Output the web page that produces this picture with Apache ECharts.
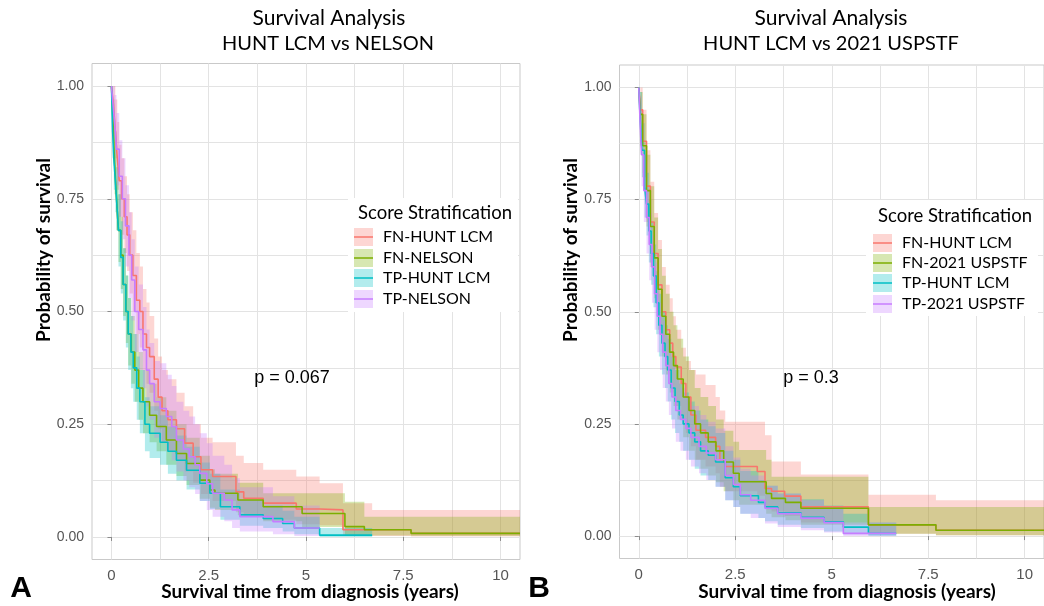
<!DOCTYPE html>
<html>
<head>
<meta charset="utf-8">
<script src="https://cdn.jsdelivr.net/npm/echarts@6/dist/echarts.min.js"></script>
<style>
  html, body { margin: 0; padding: 0; background: #fff; }
  #chart { width: 1044px; height: 606px; }
</style>
</head>
<body>
<div id="chart"></div>
<script>
  'use strict';

  // ---- axis ticks ----
  var X_TICKS = [0, 2.5, 5, 7.5, 10];
  var X_GRID = [0, 1.25, 2.5, 3.75, 5, 6.25, 7.5, 8.75, 10];
  var Y_TICKS = [0, 0.25, 0.5, 0.75, 1];
  var Y_GRID = [0, 0.125, 0.25, 0.375, 0.5, 0.625, 0.75, 0.875, 1];

  var COLORS = ['#F8766D', '#7CAE00', '#00BFC4', '#C77CFF'];
  var NAMES_A = ['FN-HUNT LCM', 'FN-NELSON', 'TP-HUNT LCM', 'TP-NELSON'];
  var NAMES_B = ['FN-HUNT LCM', 'FN-2021 USPSTF', 'TP-HUNT LCM', 'TP-2021 USPSTF'];

  // ---- panel A : HUNT LCM vs NELSON ----
  var A_FN_HUNT_T  = [0, 0.05, 0.1, 0.15, 0.2, 0.26, 0.33, 0.4, 0.47, 0.55, 0.64, 0.73, 0.81, 0.9, 0.98, 1.1, 1.2, 1.3, 1.45, 1.67, 1.88, 2.1, 2.3, 2.6, 3.2, 3.4, 3.9, 4.75, 5.35, 5.95, 6.7, 7.7];
  var A_FN_HUNT_S  = [1, 0.96, 0.9, 0.84, 0.79, 0.75, 0.71, 0.67, 0.625, 0.58, 0.525, 0.5, 0.45, 0.42, 0.40, 0.35, 0.31, 0.28, 0.26, 0.24, 0.208, 0.178, 0.149, 0.134, 0.10, 0.086, 0.075, 0.062, 0.06, 0.016, 0.016, 0.008];
  var A_FN_HUNT_HI = [1, 1, 0.97, 0.92, 0.87, 0.84, 0.80, 0.76, 0.72, 0.68, 0.63, 0.60, 0.55, 0.52, 0.49, 0.44, 0.40, 0.37, 0.35, 0.32, 0.29, 0.25, 0.22, 0.21, 0.18, 0.164, 0.149, 0.134, 0.119, 0.075, 0.06, 0.06];
  var A_FN_HUNT_LO = [1, 0.92, 0.84, 0.77, 0.71, 0.67, 0.63, 0.59, 0.54, 0.50, 0.45, 0.42, 0.37, 0.34, 0.32, 0.28, 0.24, 0.21, 0.19, 0.17, 0.145, 0.12, 0.095, 0.08, 0.055, 0.045, 0.038, 0.028, 0.026, 0.002, 0.002, 0.001];

  var A_FN_NEL_T  = [0, 0.04, 0.08, 0.13, 0.18, 0.24, 0.3, 0.37, 0.43, 0.51, 0.6, 0.7, 0.81, 0.98, 1.16, 1.41, 1.67, 1.93, 2.27, 2.53, 2.66, 3.25, 3.9, 4.9, 6.0, 6.5, 7.7];
  var A_FN_NEL_S  = [1, 0.92, 0.83, 0.75, 0.68, 0.625, 0.56, 0.5, 0.45, 0.41, 0.37, 0.33, 0.30, 0.27, 0.245, 0.215, 0.185, 0.163, 0.126, 0.104, 0.097, 0.082, 0.067, 0.052, 0.023, 0.016, 0.008];
  var A_FN_NEL_HI = [1, 0.97, 0.9, 0.82, 0.76, 0.71, 0.64, 0.58, 0.53, 0.49, 0.45, 0.41, 0.37, 0.34, 0.31, 0.28, 0.25, 0.22, 0.18, 0.15, 0.14, 0.12, 0.097, 0.097, 0.078, 0.045, 0.045];
  var A_FN_NEL_LO = [1, 0.87, 0.76, 0.68, 0.61, 0.55, 0.49, 0.43, 0.38, 0.34, 0.30, 0.26, 0.23, 0.21, 0.19, 0.16, 0.135, 0.115, 0.085, 0.065, 0.06, 0.048, 0.035, 0.022, 0.004, 0.003, 0.002];

  var A_TP_HUNT_T  = [0, 0.03, 0.06, 0.1, 0.13, 0.18, 0.24, 0.3, 0.37, 0.43, 0.5, 0.56, 0.65, 0.73, 0.86, 0.98, 1.25, 1.45, 1.67, 1.93, 2.27, 2.53, 2.8, 3.3, 3.9, 4.4, 4.7, 5.35];
  var A_TP_HUNT_S  = [1, 0.9, 0.84, 0.79, 0.75, 0.68, 0.62, 0.56, 0.5, 0.45, 0.41, 0.375, 0.33, 0.30, 0.25, 0.23, 0.21, 0.19, 0.17, 0.148, 0.119, 0.097, 0.067, 0.049, 0.041, 0.03, 0.02, 0.004];
  var A_TP_HUNT_HI = [1, 0.96, 0.91, 0.86, 0.82, 0.76, 0.70, 0.64, 0.58, 0.53, 0.49, 0.45, 0.40, 0.37, 0.31, 0.29, 0.27, 0.245, 0.225, 0.2, 0.165, 0.14, 0.105, 0.082, 0.07, 0.058, 0.045, 0.02];
  var A_TP_HUNT_LO = [1, 0.84, 0.77, 0.72, 0.68, 0.6, 0.54, 0.48, 0.42, 0.37, 0.33, 0.3, 0.26, 0.23, 0.19, 0.175, 0.16, 0.14, 0.125, 0.105, 0.08, 0.062, 0.038, 0.025, 0.02, 0.012, 0.006, 0];

  var A_TP_NEL_T  = [0, 0.04, 0.08, 0.13, 0.2, 0.28, 0.36, 0.45, 0.52, 0.6, 0.7, 0.81, 0.9, 0.98, 1.1, 1.25, 1.41, 1.55, 1.67, 1.85, 2.0, 2.15, 2.27, 2.45, 2.6, 2.9, 3.1, 3.3, 4.15, 4.7];
  var A_TP_NEL_S  = [1, 0.96, 0.92, 0.86, 0.8, 0.75, 0.69, 0.625, 0.57, 0.5, 0.46, 0.415, 0.37, 0.34, 0.3, 0.285, 0.267, 0.245, 0.215, 0.195, 0.178, 0.16, 0.141, 0.118, 0.097, 0.082, 0.06, 0.045, 0.034, 0.02];
  var A_TP_NEL_HI = [1, 1, 0.98, 0.94, 0.88, 0.84, 0.78, 0.72, 0.66, 0.6, 0.56, 0.51, 0.46, 0.43, 0.39, 0.385, 0.36, 0.335, 0.3, 0.28, 0.267, 0.25, 0.23, 0.208, 0.18, 0.16, 0.13, 0.11, 0.09, 0.07];
  var A_TP_NEL_LO = [1, 0.9, 0.85, 0.78, 0.71, 0.66, 0.6, 0.53, 0.48, 0.41, 0.37, 0.33, 0.29, 0.26, 0.22, 0.21, 0.19, 0.17, 0.145, 0.125, 0.11, 0.095, 0.08, 0.06, 0.045, 0.035, 0.02, 0.012, 0.006, 0.002];

  var A_END = [10.5, 10.5, 6.7, 5.35];

  // ---- panel B : HUNT LCM vs 2021 USPSTF ----
  var B_FN_HUNT_T  = [0, 0.04, 0.1, 0.2, 0.3, 0.4, 0.5, 0.6, 0.7, 0.8, 0.88, 0.96, 1.1, 1.22, 1.35, 1.48, 1.73, 1.99, 2.1, 2.24, 3.07, 3.27, 3.44, 3.78, 4.2, 5.95, 7.7];
  var B_FN_HUNT_S  = [1, 0.95, 0.88, 0.78, 0.7, 0.63, 0.56, 0.5, 0.46, 0.43, 0.40, 0.377, 0.34, 0.31, 0.27, 0.236, 0.22, 0.2, 0.17, 0.155, 0.144, 0.106, 0.1, 0.089, 0.065, 0.025, 0.013];
  var B_FN_HUNT_HI = [1, 1, 0.95, 0.86, 0.79, 0.72, 0.66, 0.6, 0.56, 0.53, 0.49, 0.46, 0.42, 0.39, 0.37, 0.36, 0.337, 0.31, 0.28, 0.255, 0.255, 0.225, 0.166, 0.166, 0.137, 0.092, 0.08];
  var B_FN_HUNT_LO = [1, 0.9, 0.81, 0.7, 0.61, 0.54, 0.47, 0.41, 0.37, 0.34, 0.31, 0.29, 0.26, 0.23, 0.2, 0.17, 0.155, 0.14, 0.11, 0.1, 0.09, 0.06, 0.055, 0.045, 0.03, 0.005, 0.002];

  var B_FN_USP_T  = [0, 0.04, 0.1, 0.2, 0.3, 0.4, 0.5, 0.6, 0.7, 0.8, 0.9, 1.0, 1.15, 1.3, 1.45, 1.6, 1.8, 2.0, 2.2, 2.45, 2.6, 3.3, 3.44, 3.8, 4.2, 5.95, 7.7];
  var B_FN_USP_S  = [1, 0.94, 0.87, 0.77, 0.69, 0.62, 0.55, 0.49, 0.45, 0.41, 0.38, 0.35, 0.31, 0.28, 0.25, 0.23, 0.21, 0.19, 0.165, 0.14, 0.121, 0.095, 0.084, 0.075, 0.062, 0.025, 0.013];
  var B_FN_USP_HI = [1, 0.99, 0.94, 0.85, 0.78, 0.71, 0.64, 0.58, 0.54, 0.5, 0.47, 0.44, 0.4, 0.37, 0.33, 0.31, 0.29, 0.26, 0.235, 0.21, 0.192, 0.17, 0.132, 0.132, 0.132, 0.065, 0.065];
  var B_FN_USP_LO = [1, 0.88, 0.8, 0.69, 0.6, 0.53, 0.46, 0.4, 0.36, 0.32, 0.29, 0.26, 0.22, 0.19, 0.17, 0.15, 0.135, 0.12, 0.1, 0.08, 0.07, 0.05, 0.042, 0.035, 0.025, 0.005, 0.002];

  var B_TP_HUNT_T  = [0, 0.03, 0.08, 0.15, 0.2, 0.26, 0.32, 0.38, 0.45, 0.52, 0.6, 0.68, 0.75, 0.84, 0.94, 1.05, 1.15, 1.3, 1.45, 1.6, 1.8, 1.99, 2.24, 2.45, 2.63, 3.1, 3.27, 3.6, 4.2, 4.8, 5.3, 5.95];
  var B_TP_HUNT_S  = [1, 0.94, 0.86, 0.78, 0.74, 0.68, 0.63, 0.58, 0.52, 0.47, 0.43, 0.4, 0.37, 0.33, 0.3, 0.27, 0.25, 0.23, 0.21, 0.19, 0.18, 0.165, 0.13, 0.11, 0.09, 0.075, 0.065, 0.052, 0.042, 0.032, 0.02, 0.006];
  var B_TP_HUNT_HI = [1, 0.99, 0.92, 0.85, 0.81, 0.75, 0.7, 0.65, 0.59, 0.54, 0.5, 0.47, 0.44, 0.4, 0.37, 0.34, 0.32, 0.3, 0.28, 0.26, 0.245, 0.23, 0.19, 0.17, 0.145, 0.125, 0.112, 0.095, 0.082, 0.068, 0.05, 0.03];
  var B_TP_HUNT_LO = [1, 0.88, 0.8, 0.71, 0.67, 0.61, 0.56, 0.51, 0.45, 0.4, 0.36, 0.33, 0.3, 0.26, 0.23, 0.21, 0.19, 0.17, 0.15, 0.135, 0.125, 0.11, 0.08, 0.065, 0.05, 0.04, 0.033, 0.025, 0.018, 0.01, 0.004, 0];

  var B_TP_USP_T  = [0, 0.03, 0.07, 0.13, 0.2, 0.27, 0.34, 0.41, 0.48, 0.55, 0.62, 0.7, 0.78, 0.86, 0.96, 1.08, 1.22, 1.35, 1.56, 1.75, 1.99, 2.24, 2.45, 2.63, 2.9, 3.27, 3.6, 4.2, 4.8, 5.3];
  var B_TP_USP_S  = [1, 0.93, 0.85, 0.77, 0.71, 0.65, 0.6, 0.54, 0.49, 0.45, 0.41, 0.38, 0.34, 0.31, 0.28, 0.26, 0.24, 0.22, 0.2, 0.185, 0.17, 0.135, 0.115, 0.092, 0.08, 0.062, 0.05, 0.04, 0.03, 0.006];
  var B_TP_USP_HI = [1, 0.98, 0.91, 0.84, 0.78, 0.72, 0.67, 0.61, 0.56, 0.52, 0.48, 0.45, 0.41, 0.38, 0.35, 0.33, 0.31, 0.29, 0.27, 0.255, 0.24, 0.2, 0.175, 0.15, 0.135, 0.112, 0.095, 0.08, 0.066, 0.03];
  var B_TP_USP_LO = [1, 0.87, 0.78, 0.7, 0.63, 0.57, 0.52, 0.46, 0.41, 0.37, 0.33, 0.3, 0.27, 0.24, 0.21, 0.19, 0.17, 0.155, 0.14, 0.125, 0.11, 0.08, 0.065, 0.05, 0.04, 0.028, 0.02, 0.013, 0.008, 0];

  var B_END = [10.5, 10.5, 6.67, 6.67];

  var CURVES_A = [
    [A_FN_HUNT_T, A_FN_HUNT_S, A_FN_HUNT_LO, A_FN_HUNT_HI],
    [A_FN_NEL_T, A_FN_NEL_S, A_FN_NEL_LO, A_FN_NEL_HI],
    [A_TP_HUNT_T, A_TP_HUNT_S, A_TP_HUNT_LO, A_TP_HUNT_HI],
    [A_TP_NEL_T, A_TP_NEL_S, A_TP_NEL_LO, A_TP_NEL_HI]
  ];
  var CURVES_B = [
    [B_FN_HUNT_T, B_FN_HUNT_S, B_FN_HUNT_LO, B_FN_HUNT_HI],
    [B_FN_USP_T, B_FN_USP_S, B_FN_USP_LO, B_FN_USP_HI],
    [B_TP_HUNT_T, B_TP_HUNT_S, B_TP_HUNT_LO, B_TP_HUNT_HI],
    [B_TP_USP_T, B_TP_USP_S, B_TP_USP_LO, B_TP_USP_HI]
  ];

  var chart = echarts.init(document.getElementById('chart'), null, { renderer: 'canvas' });

  var TICK_FONT = "'Liberation Sans', Arial, sans-serif";
  var TEXT_FONT = "Lato, 'Open Sans', sans-serif";
  var GRID_COLOR = '#e3e3e3';

  function axesFor(gi) {
    // first pair draws grid lines, second pair draws ticks + labels
    var x = [{
      type: 'value', gridIndex: gi, position: 'bottom', min: -0.5, max: 10.5,
      axisLine: { show: false },
      axisTick: { show: false, customValues: X_GRID },
      axisLabel: { show: false },
      splitLine: { show: true, lineStyle: { color: GRID_COLOR, width: 1 } }
    }, {
      type: 'value', gridIndex: gi, position: 'bottom', offset: 0, min: -0.5, max: 10.5,
      axisLine: { show: false },
      axisTick: { show: true, customValues: X_TICKS, length: 4, lineStyle: { color: '#8c8c8c' } },
      axisLabel: {
        customValues: X_TICKS, margin: 9, color: '#555', fontSize: 15,
        fontFamily: "'Liberation Sans Narrow', " + TICK_FONT,
        formatter: function (v) { return String(v); }
      },
      splitLine: { show: false }
    }];
    var y = [{
      type: 'value', gridIndex: gi, position: 'left', min: -0.05, max: 1.05,
      axisLine: { show: false },
      axisTick: { show: false, customValues: Y_GRID },
      axisLabel: { show: false },
      splitLine: { show: true, lineStyle: { color: GRID_COLOR, width: 1 } }
    }, {
      type: 'value', gridIndex: gi, position: 'left', offset: 0, min: -0.05, max: 1.05,
      axisLine: { show: false },
      axisTick: { show: true, customValues: Y_TICKS, length: 4, lineStyle: { color: '#8c8c8c' } },
      axisLabel: {
        customValues: Y_TICKS, margin: 8, color: '#555', fontSize: 14, fontFamily: TICK_FONT,
        formatter: function (v) { return v.toFixed(2); }
      },
      splitLine: { show: false }
    }];
    return { x: x, y: y };
  }

  function bandSeries(curve, end, color, axisIdx) {
    var t = curve[0], lo = curve[2], hi = curve[3];
    var rows = t.map(function (v, i) {
      return [v, i + 1 < t.length ? t[i + 1] : end, lo[i], hi[i]];
    });
    return {
      type: 'custom', xAxisIndex: axisIdx, yAxisIndex: axisIdx, data: rows,
      silent: true, z: 1, clip: true,
      renderItem: function (params, api) {
        if (params.dataIndex !== 0) { return null; }
        var top = [], bottom = [];
        rows.forEach(function (r) {
          top.push(api.coord([r[0], r[3]]), api.coord([r[1], r[3]]));
          bottom.unshift(api.coord([r[1], r[2]]), api.coord([r[0], r[2]]));
        });
        return {
          type: 'polygon',
          shape: { points: top.concat(bottom) },
          style: { fill: color, opacity: 0.3 }
        };
      }
    };
  }

  function lineSeries(curve, end, color, axisIdx, name) {
    var t = curve[0], s = curve[1];
    var pts = t.map(function (v, i) { return [v, s[i]]; });
    pts.push([end, s[s.length - 1]]);
    return {
      type: 'line', name: name, step: 'end', xAxisIndex: axisIdx, yAxisIndex: axisIdx,
      data: pts, symbol: 'none', silent: true, z: 3,
      lineStyle: { color: color, width: 1.6 }, itemStyle: { color: color }
    };
  }

  var axA = axesFor(0), axB = axesFor(1);
  var series = [];
  [[CURVES_A, A_END, NAMES_A, 0], [CURVES_B, B_END, NAMES_B, 2]].forEach(function (p) {
    p[0].forEach(function (c, i) { series.push(bandSeries(c, p[1][i], COLORS[i], p[3])); });
    p[0].forEach(function (c, i) { series.push(lineSeries(c, p[1][i], COLORS[i], p[3], p[2][i])); });
  });

  function text(str, x, y, opt) {
    return {
      type: 'text', x: x, y: y, z: 20, rotation: opt.rotation || 0,
      style: {
        text: str, fill: opt.color || '#000',
        font: (opt.weight || 'normal') + ' ' + opt.size + 'px ' + (opt.family || TEXT_FONT),
        textAlign: opt.align || 'center', textVerticalAlign: 'middle'
      }
    };
  }

  function legend(names, x0, y0, w, h, keyX, titleX, titleY, rows) {
    var els = [{
      type: 'rect', z: 15, shape: { x: x0, y: y0, width: w, height: h },
      style: { fill: '#fff' }
    }, text('Score Stratification', titleX, titleY, { size: 18.5, align: 'left' })];
    names.forEach(function (n, i) {
      var cy = rows[i];
      els.push({
        type: 'rect', z: 16, shape: { x: keyX, y: cy - 9, width: 19, height: 18 },
        style: { fill: COLORS[i], opacity: 0.3 }
      });
      els.push({
        type: 'line', z: 17, shape: { x1: keyX, y1: cy, x2: keyX + 19, y2: cy },
        style: { stroke: COLORS[i], lineWidth: 1.5 }
      });
      els.push(text(n, keyX + 29, cy, { size: 16, align: 'left' }));
    });
    return els;
  }

  var graphics = [
    text('Survival Analysis', 329, 18, { size: 21 }),
    text('HUNT LCM vs NELSON', 328, 44, { size: 20 }),
    text('Survival Analysis', 831, 18, { size: 21 }),
    text('HUNT LCM vs 2021 USPSTF', 831, 44, { size: 20 }),
    text('Probability of survival', 44, 250, { size: 19, weight: 'bold', rotation: Math.PI / 2 }),
    text('Probability of survival', 571, 250, { size: 19, weight: 'bold', rotation: Math.PI / 2 }),
    text('Survival time from diagnosis (years)', 310, 592, { size: 19, weight: 'bold' }),
    text('Survival time from diagnosis (years)', 847, 592, { size: 19, weight: 'bold' }),
    text('p = 0.067', 292, 378, { size: 18, family: TICK_FONT }),
    text('p = 0.3', 811, 378, { size: 18, family: TICK_FONT }),
    text('A', 21, 589, { size: 30, weight: 'bold', family: TICK_FONT }),
    text('B', 539, 589, { size: 30, weight: 'bold', family: TICK_FONT })
  ].concat(
    legend(NAMES_A, 348, 198, 170, 114, 354, 358, 213, [237, 258, 278, 299]),
    legend(NAMES_B, 866, 200, 172, 116, 873, 878, 216, [243, 263, 283, 304])
  );

  chart.setOption({
    animation: false,
    backgroundColor: '#fff',
    grid: [
      { left: 92, top: 63.5, width: 428, height: 496, show: true, borderColor: '#c9c9c9', borderWidth: 1, backgroundColor: 'transparent' },
      { left: 619.5, top: 65, width: 430, height: 493.5, show: true, borderColor: '#c9c9c9', borderWidth: 1, backgroundColor: 'transparent' }
    ],
    xAxis: axA.x.concat(axB.x),
    yAxis: axA.y.concat(axB.y),
    series: series,
    graphic: { elements: graphics }
  });
</script>
</body>
</html>
